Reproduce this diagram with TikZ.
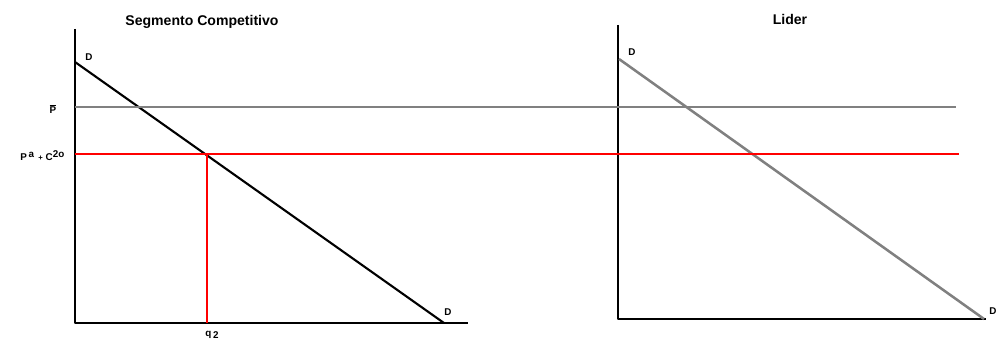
\documentclass[tikz,border=0pt]{standalone}
\usepackage{fontspec}
\setmainfont{Liberation Sans}
\usetikzlibrary{calc, positioning}
\newcommand{\up}[1]{\raisebox{0.6ex}{#1}}
\newcommand{\dn}[1]{\raisebox{-0.5ex}{#1}}
\newcommand{\barP}{\setbox0\hbox{P}\rlap{\raisebox{\dimexpr\ht0+1pt\relax}{\rule{\wd0}{0.5pt}}}P}

\begin{document}
\begin{tikzpicture}[x=0.025cm, y=-0.025cm, line join=round,
    axis/.style={line width=2.1pt, black},
    demand/.style={line width=1.5pt},
    price/.style={line width=1.8pt, gray},
    cost/.style={line width=1.8pt, red},
    lbl/.style={font=\bfseries\fontsize{7}{8}\selectfont, inner sep=1pt},
    ttl/.style={font=\bfseries\fontsize{10}{12}\selectfont}]
  \useasboundingbox (0,0) rectangle (998,347);
  % competitive segment axes
  \coordinate (o1) at (75,323);
  \coordinate (y1) at (75,29);
  \coordinate (x1) at (468,323);
  \draw[axis] (y1) -- (o1) -- (x1);
  % leader axes
  \coordinate (o2) at (618,319);
  \coordinate (y2) at (618,25);
  \coordinate (x2) at (986,319);
  \draw[axis] (y2) -- (o2) -- (x2);
  % demand curves
  \coordinate (d1a) at (75,62);
  \coordinate (d1b) at (444,323);
  \draw[demand, black] (d1a) -- (d1b);
  \coordinate (d2a) at (619,59);
  \coordinate (d2b) at (984,319);
  \draw[demand, line width=1.8pt, gray] (d2a) -- (d2b);
  % price level and cost level
  \coordinate (pL) at (75,107);
  \coordinate (pR) at (956,107);
  \draw[price] (pL) -- (pR);
  \coordinate (cL) at (75,154);
  \coordinate (cR) at (959,154);
  \draw[cost] (cL) -- (cR);
  \coordinate (q2) at (207,323);
  \coordinate (eq) at (207,154);
  \draw[cost] (eq) -- (q2);
  % labels
  \node[lbl] (dtop1) at (89,57) {D};
  \node[lbl] (dbot1) at (448,312) {D};
  \node[lbl] (dtop2) at (632,52) {D};
  \node[lbl] (dbot2) at (993,311) {D};
  \node[lbl] (pbar) at (53,109) {\barP};
  \node[lbl, anchor=east] (pc) at (66,156) {P\,\up{a}\, \fontsize{5.5}{6}\selectfont+\fontsize{7}{8}\selectfont{} C\up{2o}};
  \node[lbl] (q2l) at (212,335) {q\,\dn{2}};
  \node[ttl] (t1) at (202,22) {Segmento Competitivo};
  \node[ttl] (t2) at (790,19) {Lider};
\end{tikzpicture}
\end{document}
